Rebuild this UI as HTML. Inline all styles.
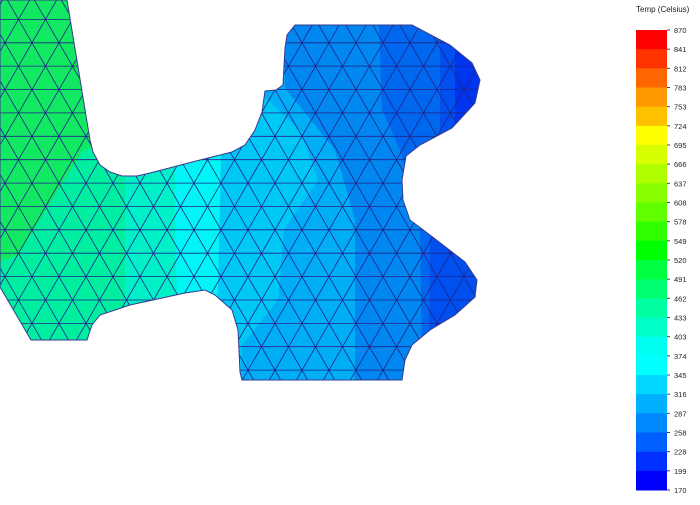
<!DOCTYPE html>
<html><head><meta charset="utf-8"><style>
body{margin:0;background:#fff;width:700px;height:500px;overflow:hidden;font-family:"Liberation Sans",sans-serif}
</style></head><body>
<svg id="s" width="700" height="500" viewBox="0 0 700 500">
<defs>
<clipPath id="shape"><path id="outlineClip" d=""/></clipPath>
</defs>
<g id="part" clip-path="url(#shape)"></g>
<path id="outline" fill="none" stroke="#3a3a90" stroke-width="1"/>
<text x="636" y="12" font-size="8" fill="#222">Temp (Celsius)</text>
<g id="legend"></g>
</svg>
<script>
const legendTicks=[870,841,812,783,753,724,695,666,637,608,578,549,520,491,462,433,403,374,345,316,287,258,228,199,170];
const legendColors=["#ff0000","#ff3300","#ff6600","#ff9900","#ffc000","#ffff00","#d8ff00","#b0ff00","#88ff00","#60ff00","#30ff00","#00ff00","#00ff40","#00ff70","#00ffa0","#00ffc8","#00fff0","#00ffff","#00d8ff","#00b0ff","#0088ff","#0060ff","#0030ff","#0000ff"];
const NS="http://www.w3.org/2000/svg";
const outlinePts=[[0,0],[67,0],[90,140],[93,152],[100,165],[110,172],[122,176],[137,176],[150,173],[200,160],[232,152],[245,145],[255,130],[262,112],[265,91],[276,90],[283,85],[285,48],[287,35],[295,25],[412,25],[450,45],[472,63],[480,80],[475,103],[452,128],[420,145],[406,156],[402,180],[403,200],[410,220],[430,235],[465,262],[477,280],[475,297],[455,315],[430,330],[412,345],[405,360],[402,380],[242,380],[240,372],[238,330],[232,310],[215,295],[205,290],[185,293],[130,305],[100,315],[92,325],[87,340],[31,340],[0,287]];
const d="M"+outlinePts.map(p=>p.join(",")).join("L")+"Z";
document.getElementById("outlineClip").setAttribute("d",d);
document.getElementById("outline").setAttribute("d",d);
const part=document.getElementById("part");
function poly(pts,fill,name){const e=document.createElementNS(NS,"path");e.setAttribute("d","M"+pts.map(p=>p.join(",")).join("L")+"Z");e.setAttribute("fill",fill);


part.appendChild(e);}
poly([[0,0],[700,0],[700,500],[0,500]],"#00eea0","band-base");
poly([[0,0],[100,0],[100,145],[83,150],[18,255],[0,262]],"#12e862","band-green");
const bands=[
 {c:"#00f0c8",b:[[125,0],[125,500]]},
 {c:"#00f6f4",b:[[172,0],[176,250],[180,500]]},
 {c:"#00c8f5",b:[[225,0],[220,200],[213,500]]},
 {c:"#00aef5",b:[[255,0],[262,95],[300,130],[318,180],[284,230],[278,300],[242,345],[238,500]]},
 {c:"#0088f0",b:[[283,0],[285,88],[335,150],[355,220],[355,500]]},
 {c:"#0068ee",b:[[378,0],[382,110],[400,150],[420,230],[424,500]]},
 {c:"#0050f0",b:[[440,0],[440,150],[430,230],[428,500]]},
 {c:"#0035f0",b:[[455,0],[455,140],[700,140],[700,0]],closed:true},
];
bands.forEach((b,i)=>{const pts=b.closed?b.b:b.b.concat([[700,500],[700,0]]);poly(pts,b.c,"band-"+i);});
const s=27,h=s*Math.sqrt(3)/2;
const g=document.createElementNS(NS,"g");g.setAttribute("stroke","#22228a");g.setAttribute("stroke-width","0.8");g.setAttribute("fill","none");


part.appendChild(g);
let md="";
for(let y=-4;y<400;y+=h){md+=`M-10,${y.toFixed(1)}L500,${y.toFixed(1)}`;}
const k=Math.tan(Math.PI/3);
for(let x=-400;x<900;x+=s){md+=`M${x},-4L${(x+404/k).toFixed(1)},400M${x},-4L${(x-404/k).toFixed(1)},400`;}
const ml=document.createElementNS(NS,"path");ml.setAttribute("d",md);


g.appendChild(ml);
const lg=document.getElementById("legend");
const legTop=30,legBot=490,bh=(legBot-legTop)/legendColors.length;
legendColors.forEach((c,i)=>{const r=document.createElementNS(NS,"rect");r.setAttribute("x",636);r.setAttribute("y",legTop+i*bh);r.setAttribute("width",31);r.setAttribute("height",bh+0.5);r.setAttribute("fill",c);


lg.appendChild(r);});
legendTicks.forEach((t,i)=>{const y=legTop+i*bh;const tx=document.createElementNS(NS,"text");tx.setAttribute("x",674);tx.setAttribute("y",y+3);tx.setAttribute("font-size","7.5");tx.setAttribute("fill","#222");tx.textContent=t;


lg.appendChild(tx);
const ln=document.createElementNS(NS,"line");ln.setAttribute("x1",667);ln.setAttribute("x2",670);ln.setAttribute("y1",y);ln.setAttribute("y2",y);ln.setAttribute("stroke","#444");


lg.appendChild(ln);});
</script>
</body></html>
